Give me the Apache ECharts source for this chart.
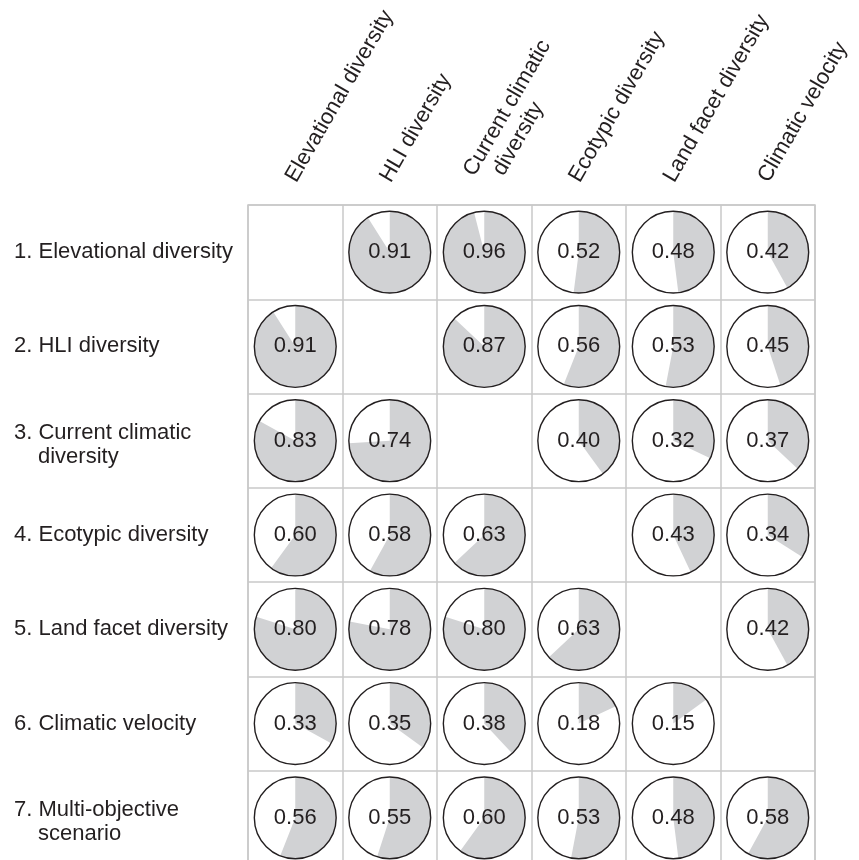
<!DOCTYPE html>
<html>
<head>
<meta charset="utf-8">
<title>Correlation among conservation objectives</title>
<script src="https://cdn.jsdelivr.net/npm/echarts@6/dist/echarts.min.js"></script>
<style>
  html, body { margin: 0; padding: 0; background: #ffffff; }
  #chart { width: 859px; height: 860px; }
</style>
</head>
<body>
<div id="chart"></div>
<script>
// Column headers (objectives compared against)
const columnLabels = [
  'Elevational diversity',
  'HLI diversity',
  'Current climatic\ndiversity',
  'Ecotypic diversity',
  'Land facet diversity',
  'Climatic velocity'
];

// Row headers
const rowLabels = [
  '1. Elevational diversity',
  '2. HLI diversity',
  '3. Current climatic\ndiversity',
  '4. Ecotypic diversity',
  '5. Land facet diversity',
  '6. Climatic velocity',
  '7. Multi-objective\nscenario'
];

// Pairwise values, one array per row (null = no comparison)
const row1 = [null, 0.91, 0.96, 0.52, 0.48, 0.42];
const row2 = [0.91, null, 0.87, 0.56, 0.53, 0.45];
const row3 = [0.83, 0.74, null, 0.40, 0.32, 0.37];
const row4 = [0.60, 0.58, 0.63, null, 0.43, 0.34];
const row5 = [0.80, 0.78, 0.80, 0.63, null, 0.42];
const row6 = [0.33, 0.35, 0.38, 0.18, 0.15, null];
const row7 = [0.56, 0.55, 0.60, 0.53, 0.48, 0.58];

const rows = [row1, row2, row3, row4, row5, row6, row7];

const cells = [];
rows.forEach((vals, r) => {
  vals.forEach((v, c) => {
    if (v !== null) cells.push([c, r, v]);
  });
});

const INK = '#231f20';
const FILL = '#d1d2d4';
const GRIDLINE = '#c9c9c9';
const FONT = '"Liberation Sans", Arial, Helvetica, sans-serif';

// Row label: number prefix, continuation lines indented under the name.
// Two-line labels get a taller first line so the pair sits a little low.
function rowLabelFormatter(label) {
  const lines = label.split('\n');
  const m = lines[0].match(/^(\d+\.\s)(.*)$/);
  if (lines.length === 1) {
    return '{n|' + m[1] + '}{t|' + m[2] + '}';
  }
  let out = '{n2|' + m[1] + '}{t2|' + m[2] + '}{sp| }';
  for (let i = 1; i < lines.length; i++) {
    out += '\n{ind| }{t|' + lines[i] + '}';
  }
  return out;
}

function colLabelFormatter(label) {
  const lines = label.split('\n');
  let out = '{t|' + lines[0] + '}';
  for (let i = 1; i < lines.length; i++) {
    out += '\n{ind| }{t|' + lines[i] + '}';
  }
  return out;
}

const chart = echarts.init(document.getElementById('chart'), null, { renderer: 'canvas' });

chart.setOption({
  backgroundColor: '#ffffff',
  animation: false,
  grid: {
    left: 248,
    top: 205,
    width: 567,
    height: 660,
    outerBoundsMode: 'none',
    containLabel: false,
    show: true,
    borderColor: GRIDLINE,
    borderWidth: 1.5,
    backgroundColor: 'transparent'
  },
  xAxis: {
    type: 'category',
    position: 'top',
    data: columnLabels,
    axisLine: { show: false },
    axisTick: { show: false },
    splitLine: { show: true, interval: 0, lineStyle: { color: GRIDLINE, width: 1.5 } },
    axisLabel: {
      interval: 0,
      rotate: -60,
      margin: 22,
      padding: [0, 0, 10, 0],
      formatter: colLabelFormatter,
      rich: {
        t: { fontFamily: FONT, fontSize: 22, color: INK, lineHeight: 25 },
        ind: { fontFamily: FONT, fontSize: 22, width: 15, lineHeight: 25 }
      }
    }
  },
  yAxis: {
    type: 'category',
    inverse: true,
    data: rowLabels,
    axisLine: { show: false },
    axisTick: { show: false },
    splitLine: { show: true, interval: 0, lineStyle: { color: GRIDLINE, width: 1.5 } },
    axisLabel: {
      interval: 0,
      align: 'left',
      margin: 234,
      formatter: rowLabelFormatter,
      rich: {
        n: { fontFamily: FONT, fontSize: 22, color: INK, lineHeight: 26 },
        t: { fontFamily: FONT, fontSize: 22, color: INK, lineHeight: 26 },
        n2: { fontFamily: FONT, fontSize: 22, color: INK, lineHeight: 26, verticalAlign: 'bottom' },
        t2: { fontFamily: FONT, fontSize: 22, color: INK, lineHeight: 26, verticalAlign: 'bottom' },
        sp: { fontFamily: FONT, fontSize: 22, width: 1, lineHeight: 32 },
        ind: { fontFamily: FONT, fontSize: 22, width: 24, lineHeight: 26 }
      }
    }
  },
  series: [{
    type: 'custom',
    coordinateSystem: 'cartesian2d',
    data: cells,
    encode: { x: 0, y: 1 },
    renderItem: function (params, api) {
      const c = api.coord([api.value(0), api.value(1)]);
      const size = api.size([1, 1]);
      const r = Math.min(size[0], size[1]) * 0.434;
      const v = api.value(2);
      const start = -Math.PI / 2;
      return {
        type: 'group',
        children: [
          {
            type: 'circle',
            shape: { cx: c[0], cy: c[1], r: r },
            style: { fill: '#ffffff' }
          },
          {
            type: 'sector',
            shape: {
              cx: c[0], cy: c[1], r: r, r0: 0,
              startAngle: start,
              endAngle: start + v * Math.PI * 2,
              clockwise: true
            },
            style: { fill: FILL }
          },
          {
            type: 'circle',
            shape: { cx: c[0], cy: c[1], r: r },
            style: { fill: null, stroke: INK, lineWidth: 1.4 }
          },
          {
            type: 'text',
            style: {
              text: v.toFixed(2),
              x: c[0],
              y: c[1],
              align: 'center',
              verticalAlign: 'middle',
              fontFamily: FONT,
              fontSize: 22,
              fill: INK
            }
          }
        ]
      };
    }
  }]
});
</script>
</body>
</html>
